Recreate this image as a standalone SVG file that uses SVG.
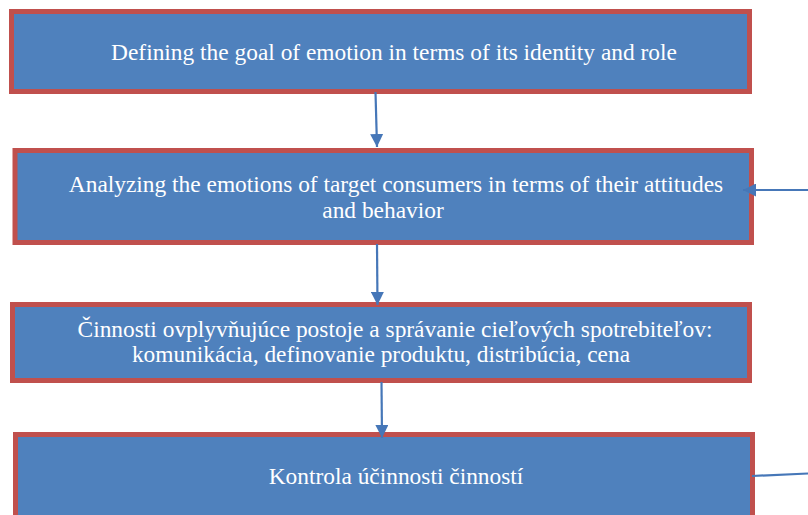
<svg xmlns="http://www.w3.org/2000/svg" width="808" height="515" viewBox="0 0 808 515">
<defs>
<style>
.box{fill:#4F81BD;stroke:#C0504D;stroke-width:5;}
.t{font-family:"Liberation Serif","Times New Roman",serif;font-size:23.4px;fill:#FFFFFF;text-anchor:middle;}
.c{stroke:#4677B8;stroke-width:2.2;fill:none;}
</style>
<marker id="ah" markerWidth="13" markerHeight="13" refX="13" refY="6.5" orient="auto" markerUnits="userSpaceOnUse" viewBox="0 0 13 13">
<path d="M0,0 L13,6.5 L0,13 Z" fill="#4677B8"/>
</marker>
</defs>
<rect width="808" height="515" fill="#FFFFFF"/>
<g id="node1">
<rect class="box" x="11.5" y="11.5" width="738" height="80"/>
<text class="t" x="394" y="60">Defining the goal of emotion in terms of its identity and role</text>
</g>
<g id="node2">
<rect class="box" x="15" y="150.5" width="736.5" height="92"/>
<text class="t" x="396" y="192">Analyzing the emotions of target consumers in terms of their attitudes</text>
<text class="t" x="383" y="218">and behavior</text>
</g>
<g id="node3">
<rect class="box" x="12.5" y="304.5" width="737" height="76"/>
<text class="t" x="395" y="337">Činnosti ovplyvňujúce postoje a správanie cieľových spotrebiteľov:</text>
<text class="t" x="381" y="362">komunikácia, definovanie produktu, distribúcia, cena</text>
</g>
<g id="node4">
<rect class="box" x="15.5" y="434.5" width="737" height="100"/>
<text class="t" x="396" y="484">Kontrola účinnosti činností</text>
</g>
<g id="connectors">
<line class="c" x1="375.5" y1="92" x2="377" y2="147" marker-end="url(#ah)"/>
<line class="c" x1="377" y1="244" x2="377.5" y2="305" marker-end="url(#ah)"/>
<line class="c" x1="381.5" y1="382" x2="382" y2="438" marker-end="url(#ah)"/>
<line class="c" x1="808" y1="190" x2="743" y2="190" marker-end="url(#ah)"/>
<line class="c" x1="752" y1="476" x2="808" y2="473.5"/>
</g>
</svg>
